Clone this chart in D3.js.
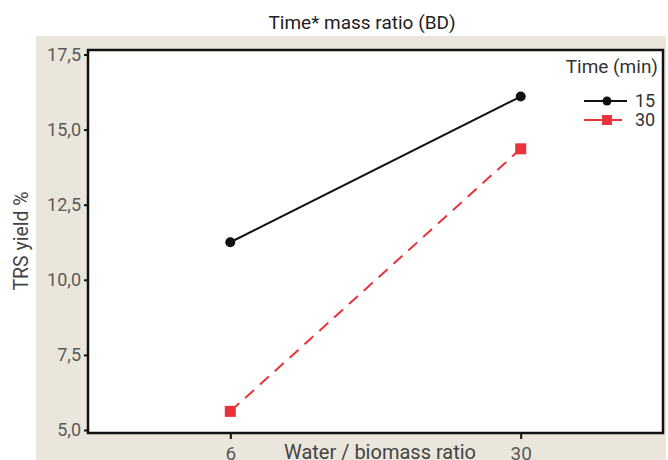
<!DOCTYPE html>
<html>
<head>
<meta charset="utf-8">
<script src="https://cdn.jsdelivr.net/npm/d3@7"></script>
<style>
  body { margin: 0; background: #fff; }
  text { font-family: Roboto, "DejaVu Sans", sans-serif; }
</style>
</head>
<body>
<div id="chart"></div>
<script>
var ratios = ["6", "30"];
var times = ["15", "30"];
var yield15 = [11.25, 16.1];
var yield30 = [5.62, 14.36];
var yTicks = [5, 7.5, 10, 12.5, 15, 17.5];

var W = 668, H = 460;
var plotL = 88, plotR = 663, plotT = 50, plotB = 433;

var svg = d3.select("#chart").append("svg")
  .attr("width", W).attr("height", H);

// beige panel behind the chart
svg.append("rect").attr("x", 36).attr("y", 36).attr("width", 630).attr("height", 430)
  .style("fill", "#ebe6dc");

var x = d3.scalePoint().domain(ratios).range([plotL, plotR]).padding(0.49);
var y = d3.scaleLinear().domain([4.9, 17.65]).range([plotB, plotT]);

svg.append("rect").attr("x", plotL).attr("y", plotT)
  .attr("width", plotR - plotL).attr("height", plotB - plotT)
  .style("fill", "#fff").style("stroke", "#111").style("stroke-width", 2.5);

// title
svg.append("text").attr("x", 362).attr("y", 29).attr("text-anchor", "middle")
  .style("font-size", "19px").style("fill", "#222").text("Time* mass ratio (BD)");

// y axis
var yAxis = svg.append("g").attr("transform", "translate(" + plotL + ",0)")
  .call(d3.axisLeft(y).tickValues(yTicks).tickSize(4).tickPadding(3)
    .tickFormat(function(d) { return d3.format(".1f")(d).replace(".", ","); }));
yAxis.select(".domain").remove();
yAxis.selectAll("line").style("stroke", "#111").style("stroke-width", 2);
yAxis.selectAll("text").style("font-size", "18px").style("fill", "#5a5a5a")
  .style("font-family", "Roboto, sans-serif");

// x axis
var xAxis = svg.append("g").attr("transform", "translate(0," + plotB + ")")
  .call(d3.axisBottom(x).tickSize(6).tickPadding(8));
xAxis.select(".domain").remove();
xAxis.selectAll("line").style("stroke", "#111").style("stroke-width", 2);
xAxis.selectAll("text").style("font-size", "19px").style("fill", "#5a5a5a")
  .style("font-family", "Roboto, sans-serif");

svg.append("text").attr("x", 380).attr("y", 459).attr("text-anchor", "middle")
  .style("font-size", "20px").style("fill", "#444").text("Water / biomass ratio");

svg.append("text").attr("transform", "translate(28,241) rotate(-90)")
  .attr("text-anchor", "middle").style("font-size", "19.5px").style("fill", "#444")
  .text("TRS yield %");

var line = d3.line().x(function(d, i) { return x(ratios[i]); }).y(function(d) { return y(d); });
var red = "#e8333a";

svg.append("path").datum(yield15).attr("d", line)
  .style("fill", "none").style("stroke", "#111").style("stroke-width", 2);
svg.append("path").datum(yield30).attr("d", line)
  .style("fill", "none").style("stroke", red).style("stroke-width", 2)
  .style("stroke-dasharray", "12,8");

svg.selectAll(".pt15").data(yield15).enter().append("circle")
  .attr("cx", function(d, i) { return x(ratios[i]); })
  .attr("cy", function(d) { return y(d); })
  .attr("r", 5).style("fill", "#111");

svg.selectAll(".pt30").data(yield30).enter().append("rect")
  .attr("x", function(d, i) { return x(ratios[i]) - 5.5; })
  .attr("y", function(d) { return y(d) - 5.5; })
  .attr("width", 11).attr("height", 11).style("fill", red);

// legend
var lg = svg.append("g");
lg.append("text").attr("x", 658).attr("y", 73).attr("text-anchor", "end")
  .style("font-size", "19px").style("fill", "#333").text("Time (min)");
times.forEach(function(t, i) {
  var ly = 101 + i * 19;
  var c = i === 0 ? "#111" : red;
  lg.append("line").attr("x1", 584).attr("x2", i === 0 ? 627 : 622)
    .attr("y1", ly).attr("y2", ly).style("stroke", c).style("stroke-width", 2);
  if (i === 0) {
    lg.append("circle").attr("cx", 607).attr("cy", ly).attr("r", 4.5).style("fill", c);
  } else {
    lg.append("rect").attr("x", 602).attr("y", ly - 5).attr("width", 10).attr("height", 10).style("fill", c);
  }
  lg.append("text").attr("x", 635).attr("y", ly + 6)
    .style("font-size", "18px").style("fill", "#333").text(t);
});
</script>
</body>
</html>
